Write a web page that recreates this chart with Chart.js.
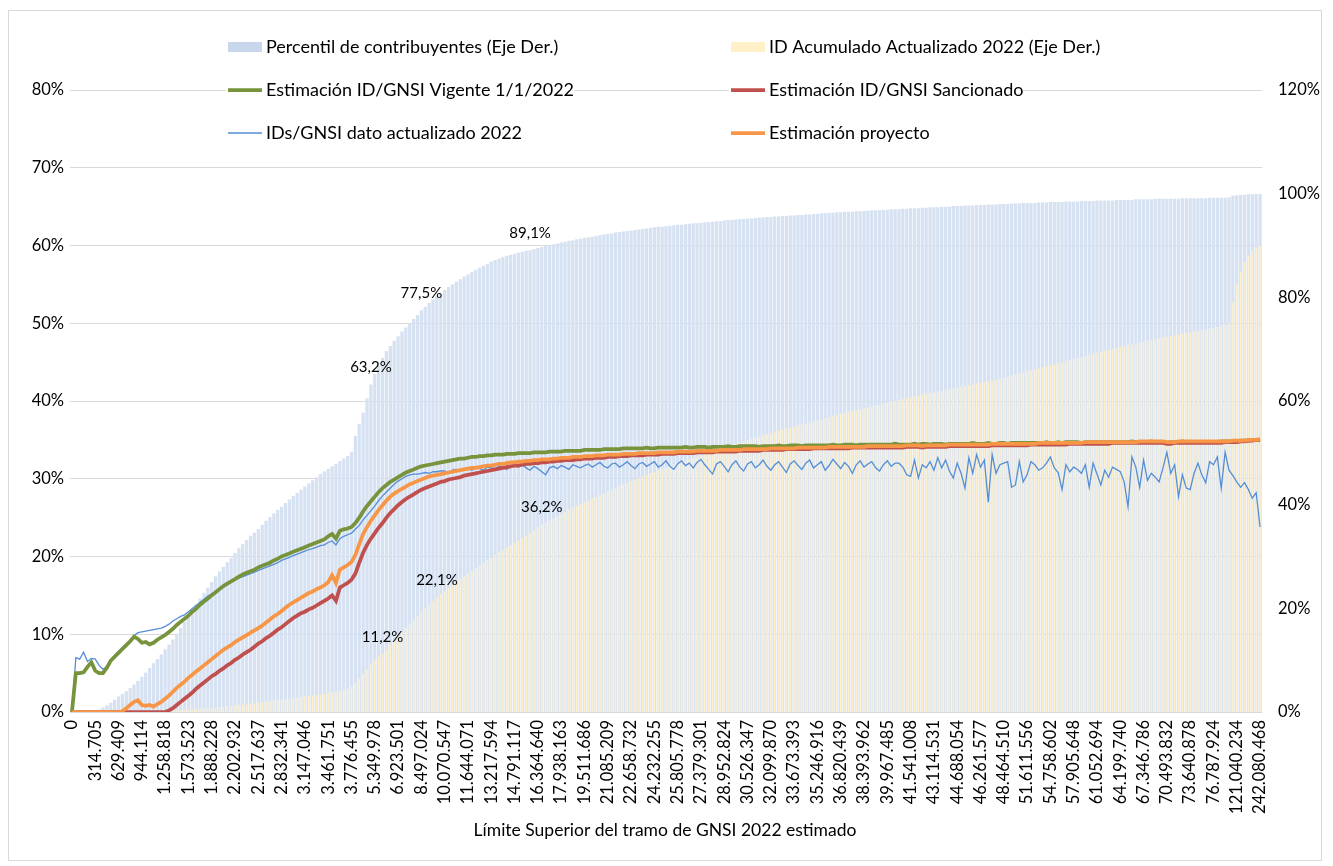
<!DOCTYPE html>
<html>
<head>
<meta charset="utf-8">
<script src="https://cdn.jsdelivr.net/npm/chart.js@4.4.1/dist/chart.umd.min.js"></script>
<style>
  body { margin: 0; background: #fff; }
</style>
</head>
<body>
<canvas id="chart" width="1333" height="866"></canvas>
<script>
// etiquetas del eje X (una cada 6 tramos)
const tickLabels = ['0','314.705','629.409','944.114','1.258.818','1.573.523','1.888.228','2.202.932',
  '2.517.637','2.832.341','3.147.046','3.461.751','3.776.455','5.349.978','6.923.501','8.497.024',
  '10.070.547','11.644.071','13.217.594','14.791.117','16.364.640','17.938.163','19.511.686','21.085.209',
  '22.658.732','24.232.255','25.805.778','27.379.301','28.952.824','30.526.347','32.099.870','33.673.393',
  '35.246.916','36.820.439','38.393.962','39.967.485','41.541.008','43.114.531','44.688.054','46.261.577',
  '48.464.510','51.611.556','54.758.602','57.905.648','61.052.694','64.199.740','67.346.786','70.493.832',
  '73.640.878','76.787.924','121.040.234','242.080.468'];
const tramosPorEtiqueta = 6;

// Eje derecho (%)
const percentilContribuyentes = [
  0, 0, 0, 0, 0.1, 0.1,
  0.2, 0.5, 0.9, 1.3, 1.8, 2.4,
  3.0, 3.5, 4.0, 4.6, 5.3, 6.0,
  6.8, 7.6, 8.5, 9.4, 10.2, 11.1,
  12.1, 13.0, 14.0, 15.1, 16.2, 17.4,
  18.5, 19.7, 20.8, 21.9, 23.0, 24.0,
  25.1, 26.2, 27.1, 28.0, 28.9, 29.7,
  30.7, 31.6, 32.4, 33.2, 34.0, 34.6,
  35.3, 36.1, 36.9, 37.6, 38.3, 39.0,
  39.6, 40.3, 41.0, 41.7, 42.3, 42.9,
  43.5, 44.1, 44.7, 45.3, 45.9, 46.4,
  46.9, 47.4, 47.9, 48.4, 48.9, 49.4,
  50.2, 53.3, 55.6, 57.8, 60.5, 63.2,
  65.2, 66.9, 68.3, 69.6, 70.6, 71.6,
  72.5, 73.4, 74.2, 75.0, 75.8, 76.6,
  77.5, 78.2, 78.9, 79.6, 80.2, 80.8,
  81.4, 82.0, 82.5, 83.0, 83.5, 84.0,
  84.4, 84.9, 85.3, 85.7, 86.1, 86.5,
  86.9, 87.2, 87.5, 87.8, 88.0, 88.2,
  88.4, 88.6, 88.8, 89.0, 89.1, 89.3,
  89.5, 89.7, 89.9, 90.1, 90.2, 90.4,
  90.6, 90.7, 90.9, 91.0, 91.2, 91.3,
  91.5, 91.6, 91.7, 91.9, 92.0, 92.1,
  92.2, 92.3, 92.5, 92.6, 92.7, 92.8,
  92.9, 93.0, 93.1, 93.2, 93.3, 93.4,
  93.5, 93.6, 93.6, 93.7, 93.8, 93.9,
  94.0, 94.0, 94.1, 94.2, 94.3, 94.3,
  94.4, 94.5, 94.5, 94.6, 94.7, 94.7,
  94.8, 94.9, 94.9, 95.0, 95.1, 95.1,
  95.2, 95.2, 95.3, 95.4, 95.4, 95.5,
  95.5, 95.6, 95.6, 95.7, 95.7, 95.8,
  95.8, 95.9, 95.9, 96.0, 96.0, 96.1,
  96.1, 96.2, 96.2, 96.3, 96.3, 96.4,
  96.4, 96.5, 96.5, 96.5, 96.6, 96.6,
  96.7, 96.7, 96.8, 96.8, 96.8, 96.9,
  96.9, 97.0, 97.0, 97.0, 97.1, 97.1,
  97.2, 97.2, 97.2, 97.3, 97.3, 97.4,
  97.4, 97.4, 97.5, 97.5, 97.5, 97.6,
  97.6, 97.6, 97.7, 97.7, 97.7, 97.8,
  97.8, 97.8, 97.9, 97.9, 97.9, 98.0,
  98.0, 98.0, 98.1, 98.1, 98.1, 98.2,
  98.2, 98.2, 98.2, 98.3, 98.3, 98.3,
  98.4, 98.4, 98.4, 98.4, 98.5, 98.5,
  98.5, 98.5, 98.6, 98.6, 98.6, 98.6,
  98.7, 98.7, 98.7, 98.7, 98.7, 98.8,
  98.8, 98.8, 98.8, 98.8, 98.9, 98.9,
  98.9, 98.9, 98.9, 99.0, 99.0, 99.0,
  99.0, 99.0, 99.0, 99.0, 99.1, 99.1,
  99.1, 99.1, 99.1, 99.1, 99.1, 99.2,
  99.2, 99.2, 99.2, 99.2, 99.3, 99.6,
  99.7, 99.8, 99.8, 99.9, 99.9, 99.95,
  100
];

const idAcumulado = [
  0, 0, 0, 0, 0, 0,
  0, 0, 0, 0, 0, 0,
  0, 0, 0, 0, 0, 0.05,
  0.05, 0.05, 0.1, 0.1, 0.1, 0.15,
  0.2, 0.2, 0.25, 0.3, 0.35, 0.4,
  0.45, 0.5, 0.55, 0.6, 0.7, 0.75,
  0.8, 0.9, 0.95, 1.0, 1.1, 1.2,
  1.25, 1.35, 1.4, 1.5, 1.6, 1.7,
  1.8, 1.9, 2.0, 2.1, 2.2, 2.3,
  2.4, 2.5, 2.6, 2.7, 2.8, 2.9,
  3.0, 3.1, 3.2, 3.3, 3.4, 3.5,
  3.7, 3.8, 3.9, 4.1, 4.3, 4.5,
  4.9, 5.6, 6.4, 7.3, 8.2, 9.1,
  10.0, 10.6, 11.2, 12.1, 13.0, 13.8,
  14.6, 15.4, 16.2, 17.0, 17.8, 18.5,
  19.3, 20.0, 20.7, 21.4, 22.1, 22.7,
  23.3, 23.9, 24.5, 25.1, 25.7, 26.2,
  26.8, 27.3, 27.8, 28.3, 28.8, 29.3,
  29.8, 30.3, 30.8, 31.2, 31.7, 32.1,
  32.6, 33.1, 33.6, 34.1, 34.6, 35.1,
  35.7, 36.2, 36.6, 37.0, 37.4, 37.8,
  38.2, 38.6, 39.0, 39.4, 39.8, 40.1,
  40.5, 40.8, 41.2, 41.5, 41.9, 42.2,
  42.6, 42.9, 43.2, 43.6, 43.9, 44.2,
  44.5, 44.8, 45.1, 45.4, 45.7, 46.0,
  46.3, 46.6, 46.9, 47.2, 47.4, 47.7,
  48.0, 48.3, 48.5, 48.8, 49.0, 49.3,
  49.6, 49.8, 50.1, 50.3, 50.6, 50.8,
  51.1, 51.3, 51.6, 51.8, 52.0, 52.3,
  52.5, 52.7, 53.0, 53.2, 53.4, 53.6,
  53.8, 54.1, 54.3, 54.5, 54.7, 54.9,
  55.1, 55.3, 55.5, 55.7, 55.9, 56.1,
  56.3, 56.5, 56.7, 56.9, 57.1, 57.3,
  57.5, 57.7, 57.9, 58.1, 58.2, 58.4,
  58.6, 58.8, 59.0, 59.1, 59.3, 59.5,
  59.7, 59.9, 60.0, 60.2, 60.4, 60.5,
  60.7, 60.9, 61.0, 61.2, 61.4, 61.5,
  61.7, 61.8, 62.0, 62.2, 62.3, 62.5,
  62.6, 62.8, 62.9, 63.1, 63.2, 63.4,
  63.5, 63.7, 63.8, 64.0, 64.1, 64.3,
  64.5, 64.7, 64.9, 65.1, 65.3, 65.5,
  65.7, 65.9, 66.1, 66.3, 66.5, 66.7,
  66.9, 67.1, 67.3, 67.5, 67.7, 67.9,
  68.1, 68.3, 68.5, 68.7, 68.9, 69.1,
  69.3, 69.5, 69.7, 69.9, 70.0, 70.2,
  70.4, 70.6, 70.8, 70.9, 71.1, 71.3,
  71.4, 71.6, 71.8, 71.9, 72.1, 72.2,
  72.4, 72.5, 72.7, 72.8, 73.0, 73.1,
  73.2, 73.4, 73.5, 73.7, 73.8, 74.0,
  74.1, 74.3, 74.5, 74.7, 75.0, 79.0,
  82.5, 85.0, 86.8, 88.0, 89.0, 89.6,
  90.0
];

// Eje izquierdo (%)
const estimacionVigente = [
  0, 5.0, 5.0, 5.1, 5.8, 6.4,
  5.3, 5.0, 5.0, 5.7, 6.6, 7.1,
  7.6, 8.1, 8.6, 9.1, 9.7, 9.4,
  8.9, 9.0, 8.7, 8.9, 9.3, 9.6,
  9.9, 10.3, 10.7, 11.2, 11.6, 12.0,
  12.4, 12.9, 13.3, 13.8, 14.2, 14.6,
  15.0, 15.4, 15.8, 16.2, 16.5, 16.8,
  17.1, 17.4, 17.7, 17.9, 18.1, 18.3,
  18.6, 18.8, 19.0, 19.2, 19.5, 19.7,
  20.0, 20.2, 20.4, 20.6, 20.8, 21.0,
  21.2, 21.4, 21.6, 21.8, 22.0, 22.2,
  22.6, 22.9, 22.3, 23.3, 23.5, 23.6,
  23.8, 24.3, 25.0, 25.8, 26.5, 27.1,
  27.7, 28.3, 28.8, 29.2, 29.6, 29.9,
  30.2, 30.5, 30.8, 31.0, 31.2, 31.4,
  31.6, 31.7, 31.8, 31.9, 32.0, 32.1,
  32.2, 32.3, 32.4, 32.5, 32.6, 32.6,
  32.7, 32.8, 32.8, 32.9, 32.9, 33.0,
  33.0, 33.1, 33.1, 33.1, 33.2, 33.2,
  33.2, 33.3, 33.3, 33.3, 33.3, 33.4,
  33.4, 33.4, 33.4, 33.5, 33.5, 33.5,
  33.5, 33.6, 33.6, 33.6, 33.6, 33.6,
  33.7, 33.7, 33.7, 33.7, 33.7, 33.8,
  33.8, 33.8, 33.8, 33.8, 33.9, 33.9,
  33.9, 33.9, 33.9, 33.9, 34.0, 33.9,
  33.9, 34.0, 34.0, 34.0, 34.0, 34.0,
  34.0, 34.0, 34.1, 34.0, 34.0, 34.1,
  34.1, 34.1, 34.0, 34.1, 34.1, 34.1,
  34.1, 34.2, 34.1, 34.1, 34.2, 34.2,
  34.2, 34.2, 34.2, 34.1, 34.2, 34.2,
  34.2, 34.2, 34.3, 34.2, 34.2, 34.3,
  34.3, 34.3, 34.2, 34.3, 34.3, 34.3,
  34.3, 34.3, 34.3, 34.3, 34.4, 34.3,
  34.3, 34.4, 34.4, 34.4, 34.3, 34.4,
  34.4, 34.4, 34.4, 34.4, 34.4, 34.4,
  34.4, 34.4, 34.5, 34.4, 34.4, 34.4,
  34.4, 34.5, 34.4, 34.5, 34.5, 34.4,
  34.5, 34.5, 34.5, 34.4, 34.5, 34.5,
  34.5, 34.5, 34.5, 34.5, 34.6, 34.5,
  34.5, 34.5, 34.6, 34.5, 34.5, 34.6,
  34.6, 34.5, 34.6, 34.6, 34.6, 34.6,
  34.6, 34.6, 34.6, 34.6, 34.6, 34.7,
  34.6, 34.6, 34.7, 34.6, 34.7, 34.7,
  34.7, 34.7, 34.6, 34.7, 34.7, 34.7,
  34.7, 34.7, 34.7, 34.7, 34.7, 34.7,
  34.7, 34.7, 34.7, 34.8, 34.7, 34.7,
  34.7, 34.7, 34.8, 34.7, 34.7, 34.7,
  34.6, 34.7, 34.7, 34.7, 34.8, 34.7,
  34.7, 34.7, 34.7, 34.7, 34.7, 34.7,
  34.7, 34.7, 34.8, 34.8, 34.8, 34.8,
  34.8, 34.9, 34.9, 34.9, 35.0, 35.0,
  35.0
];

const estimacionSancionado = [
  0, 0, 0, 0, 0, 0,
  0, 0, 0, 0, 0, 0,
  0, 0, 0, 0, 0, 0,
  0, 0, 0, 0, 0, 0,
  0, 0.2, 0.5, 0.9, 1.3, 1.7,
  2.1, 2.5, 3.0, 3.4, 3.8, 4.2,
  4.6, 4.9, 5.3, 5.6, 6.0, 6.3,
  6.7, 7.0, 7.4, 7.7, 8.0, 8.4,
  8.8, 9.1, 9.5, 9.8, 10.2, 10.6,
  10.9, 11.3, 11.7, 12.1, 12.4, 12.7,
  12.9, 13.2, 13.4, 13.7, 14.0, 14.3,
  14.6, 15.0, 14.3, 16.0, 16.3, 16.6,
  17.0, 17.8, 19.2, 20.5, 21.5, 22.3,
  23.0, 23.7, 24.3, 25.0, 25.6, 26.1,
  26.6, 27.0, 27.4, 27.7, 28.0, 28.3,
  28.6, 28.8, 29.0, 29.2, 29.4, 29.6,
  29.7, 29.9, 30.0, 30.1, 30.2, 30.4,
  30.5, 30.6, 30.7, 30.8, 30.9, 31.0,
  31.1, 31.2, 31.3, 31.4, 31.5, 31.6,
  31.7, 31.7, 31.8, 31.9, 31.9, 32.0,
  32.0, 32.1, 32.1, 32.2, 32.2, 32.3,
  32.3, 32.4, 32.4, 32.4, 32.5, 32.5,
  32.6, 32.6, 32.6, 32.7, 32.7, 32.7,
  32.8, 32.8, 32.8, 32.9, 32.9, 32.9,
  33.0, 33.0, 33.0, 33.0, 33.1, 33.1,
  33.1, 33.1, 33.2, 33.2, 33.2, 33.2,
  33.3, 33.3, 33.3, 33.3, 33.3, 33.4,
  33.4, 33.4, 33.4, 33.4, 33.5, 33.5,
  33.5, 33.5, 33.5, 33.5, 33.6, 33.6,
  33.6, 33.6, 33.6, 33.6, 33.7, 33.7,
  33.7, 33.7, 33.7, 33.7, 33.8, 33.8,
  33.8, 33.8, 33.8, 33.8, 33.8, 33.9,
  33.9, 33.9, 33.9, 33.9, 33.9, 33.9,
  33.9, 33.9, 33.9, 34.0, 34.0, 34.0,
  34.0, 34.0, 34.0, 34.0, 34.0, 34.0,
  34.0, 34.0, 34.0, 34.0, 34.0, 34.1,
  34.1, 34.1, 34.1, 34.0, 34.1, 34.1,
  34.1, 34.1, 34.1, 34.1, 34.2, 34.2,
  34.2, 34.2, 34.2, 34.2, 34.2, 34.2,
  34.2, 34.2, 34.2, 34.3, 34.3, 34.3,
  34.3, 34.3, 34.3, 34.3, 34.3, 34.3,
  34.3, 34.4, 34.4, 34.4, 34.4, 34.4,
  34.4, 34.4, 34.4, 34.4, 34.4, 34.5,
  34.5, 34.5, 34.5, 34.5, 34.5, 34.5,
  34.5, 34.5, 34.5, 34.5, 34.6, 34.6,
  34.6, 34.6, 34.6, 34.6, 34.6, 34.6,
  34.6, 34.6, 34.6, 34.6, 34.6, 34.6,
  34.5, 34.5, 34.6, 34.6, 34.6, 34.6,
  34.6, 34.6, 34.6, 34.6, 34.6, 34.6,
  34.6, 34.6, 34.6, 34.7, 34.7, 34.7,
  34.7, 34.8, 34.8, 34.9, 34.9, 35.0,
  35.0
];

const idsGnsiActualizado = [
  0, 7.0, 6.8, 7.7, 6.5, 6.9,
  6.8, 6.0, 5.5, 5.8, 6.6, 7.3,
  7.8, 8.3, 8.7, 9.2, 9.8, 10.2,
  10.3, 10.4, 10.5, 10.6, 10.7, 10.8,
  11.0, 11.3, 11.7, 12.0, 12.3, 12.5,
  12.9, 13.3, 13.7, 14.1, 14.5, 14.9,
  15.2, 15.5, 15.8, 16.1, 16.4, 16.7,
  17.0, 17.2, 17.4, 17.6, 17.8, 18.0,
  18.2, 18.4, 18.6, 18.8, 19.0, 19.2,
  19.5, 19.7, 19.9, 20.1, 20.3, 20.5,
  20.7, 20.9, 21.0, 21.2, 21.4, 21.5,
  21.8, 22.0, 21.5, 22.3, 22.6, 22.8,
  23.0, 23.5, 24.0, 24.7, 25.3, 25.9,
  26.5, 27.2, 27.8, 28.3, 28.8, 29.3,
  29.7, 30.0, 30.3, 30.5, 30.6, 30.6,
  30.7, 30.8, 30.7, 30.9, 30.9, 31.0,
  31.0, 30.8, 31.1, 31.2, 31.0, 31.2,
  31.3, 31.1, 31.4, 31.3, 31.1, 31.5,
  31.4, 31.3, 31.6, 31.5, 31.2, 31.6,
  31.7, 31.5, 31.8, 31.4, 31.1, 31.6,
  31.3, 30.9, 30.5, 31.4, 31.6, 31.3,
  31.7, 31.5, 31.2, 31.8, 31.6, 31.4,
  31.7, 31.9, 31.5, 31.8, 32.1, 31.6,
  31.4, 31.9, 32.0, 31.5, 31.8, 32.2,
  31.7, 31.3, 31.9, 32.1, 31.6, 31.9,
  32.2, 31.5, 31.8, 32.3, 31.6, 31.2,
  31.9, 32.3, 31.7, 32.0, 31.4, 32.1,
  32.5, 31.8, 31.2, 30.6, 31.9, 32.2,
  31.6, 30.9, 31.8, 32.3, 31.5, 31.0,
  31.9, 32.2, 31.4, 31.8, 32.4, 31.6,
  31.1, 31.8, 32.2, 31.5, 30.8, 31.9,
  32.3, 31.7, 31.2, 32.0, 32.4, 31.4,
  31.8, 32.2, 31.1, 31.7, 32.5, 31.9,
  31.3, 32.1, 31.6, 30.7, 31.8, 32.3,
  31.5, 31.9, 32.2, 31.4, 31.0, 31.8,
  32.3, 31.6, 32.0, 32.0, 31.5, 30.5,
  30.3, 32.4, 30.1, 31.8, 31.4, 32.2,
  31.1, 32.7, 31.4, 32.4, 31.0, 30.1,
  32.0, 30.7, 28.8, 32.7, 30.7, 33.1,
  31.5, 32.4, 27.0, 33.1, 30.7, 31.8,
  32.0, 32.2, 28.9, 29.2, 32.2, 29.6,
  30.5, 32.2, 31.8, 31.1, 31.4, 32.0,
  32.8, 31.4, 30.8, 28.6, 31.8, 30.9,
  31.5, 31.2, 30.7, 31.8, 28.9, 32.0,
  30.6, 29.2, 31.1, 30.2, 31.5, 31.2,
  30.9, 29.6, 26.4, 32.8, 31.5, 28.9,
  32.4, 29.8, 30.7, 30.2, 29.6, 31.4,
  33.4, 30.7, 31.8, 27.7, 30.5, 28.8,
  28.6, 30.7, 32.0, 30.5, 29.5, 32.2,
  31.8, 32.8, 28.8, 33.4, 31.1, 30.4,
  29.6, 28.9, 29.5, 28.6, 27.5, 28.2,
  23.8
];

const estimacionProyecto = [
  0, 0, 0, 0, 0, 0,
  0, 0, 0, 0, 0, 0,
  0, 0.1, 0.5, 0.9, 1.3, 1.5,
  0.9, 0.8, 0.9, 0.7, 1.0, 1.3,
  1.7, 2.1, 2.6, 3.1, 3.5, 3.9,
  4.4, 4.8, 5.2, 5.6, 6.0, 6.4,
  6.8, 7.2, 7.6, 8.0, 8.3, 8.6,
  9.0, 9.3, 9.6, 9.9, 10.2, 10.5,
  10.8, 11.1, 11.5, 11.9, 12.3, 12.6,
  13.0, 13.4, 13.8, 14.1, 14.4, 14.7,
  15.0, 15.3, 15.5, 15.8, 16.0, 16.3,
  16.7, 17.6, 16.6, 18.3, 18.6, 18.9,
  19.3, 20.2, 21.6, 22.9, 23.8, 24.6,
  25.3, 26.0, 26.6, 27.2, 27.7, 28.1,
  28.4, 28.7, 29.0, 29.3, 29.5, 29.7,
  29.9, 30.1, 30.3, 30.4, 30.5, 30.6,
  30.7, 30.8, 30.9, 31.0, 31.1, 31.2,
  31.3, 31.4, 31.4, 31.5, 31.6, 31.7,
  31.7, 31.8, 31.9, 31.9, 32.0, 32.1,
  32.1, 32.2, 32.2, 32.3, 32.3, 32.4,
  32.4, 32.5, 32.5, 32.5, 32.6, 32.6,
  32.7, 32.7, 32.7, 32.8, 32.8, 32.8,
  32.9, 32.9, 32.9, 33.0, 33.0, 33.0,
  33.1, 33.1, 33.1, 33.1, 33.2, 33.2,
  33.2, 33.2, 33.3, 33.3, 33.3, 33.3,
  33.3, 33.4, 33.4, 33.4, 33.4, 33.4,
  33.5, 33.5, 33.5, 33.5, 33.5, 33.6,
  33.6, 33.6, 33.6, 33.6, 33.6, 33.7,
  33.7, 33.7, 33.7, 33.7, 33.7, 33.8,
  33.8, 33.8, 33.8, 33.8, 33.8, 33.8,
  33.9, 33.9, 33.9, 33.9, 33.9, 33.9,
  33.9, 34.0, 34.0, 34.0, 34.0, 34.0,
  34.0, 34.0, 34.0, 34.1, 34.1, 34.1,
  34.1, 34.1, 34.1, 34.1, 34.1, 34.1,
  34.1, 34.2, 34.2, 34.2, 34.2, 34.2,
  34.2, 34.2, 34.2, 34.2, 34.2, 34.3,
  34.3, 34.3, 34.3, 34.2, 34.3, 34.3,
  34.3, 34.3, 34.3, 34.3, 34.4, 34.4,
  34.4, 34.4, 34.4, 34.4, 34.4, 34.4,
  34.4, 34.4, 34.4, 34.5, 34.5, 34.5,
  34.5, 34.5, 34.5, 34.5, 34.5, 34.5,
  34.5, 34.5, 34.5, 34.6, 34.6, 34.6,
  34.6, 34.6, 34.6, 34.6, 34.6, 34.6,
  34.6, 34.6, 34.6, 34.7, 34.7, 34.7,
  34.7, 34.7, 34.7, 34.7, 34.7, 34.7,
  34.7, 34.7, 34.7, 34.7, 34.7, 34.8,
  34.8, 34.8, 34.8, 34.8, 34.8, 34.8,
  34.7, 34.7, 34.7, 34.8, 34.8, 34.8,
  34.8, 34.8, 34.8, 34.8, 34.8, 34.8,
  34.8, 34.8, 34.8, 34.8, 34.8, 34.9,
  34.9, 34.9, 34.9, 35.0, 35.0, 35.0,
  35.1
];

// tramos con etiqueta de dato
const etiquetasPercentil = [77, 90, 118];
const etiquetasAcumulado = [80, 94, 121];

const categorias = percentilContribuyentes.map((v, i) =>
  i % tramosPorEtiqueta === 0 ? tickLabels[i / tramosPorEtiqueta] : '');

const fuente = 'Lato, "Open Sans", sans-serif';
const fmtPct = v => v.toFixed(1).replace('.', ',') + '%';

const extras = {
  id: 'extras',
  beforeDraw(chart) {
    const ctx = chart.ctx;
    ctx.save();
    ctx.fillStyle = '#fff';
    ctx.fillRect(0, 0, chart.width, chart.height);
    ctx.restore();
  },
  afterDraw(chart) {
    const ctx = chart.ctx;
    ctx.save();
    // marco
    ctx.strokeStyle = '#d9d9d9';
    ctx.lineWidth = 1;
    ctx.strokeRect(8.5, 10.5, 1313, 850);

    // etiquetas de datos
    ctx.font = '15px ' + fuente;
    ctx.fillStyle = '#000';
    ctx.textAlign = 'center';
    ctx.textBaseline = 'middle';
    [[0, etiquetasPercentil], [1, etiquetasAcumulado]].forEach(([ds, idxs]) => {
      const meta = chart.getDatasetMeta(ds);
      idxs.forEach(i => {
        const bar = meta.data[i];
        ctx.fillText(fmtPct(chart.data.datasets[ds].data[i]), bar.x, bar.y - 17);
      });
    });

    // titulo eje X
    ctx.font = '17.5px ' + fuente;
    ctx.fillText('Límite Superior del tramo de GNSI 2022 estimado', 665, 830);

    // leyenda
    const items = [
      [0, 228, 47], [1, 731, 47],
      [2, 228, 90], [3, 731, 90],
      [4, 228, 133], [5, 731, 133]
    ];
    ctx.font = '18px ' + fuente;
    ctx.textAlign = 'left';
    items.forEach(([ds, x, y]) => {
      const d = chart.data.datasets[ds];
      const w = ctx.measureText(d.label).width;
      ctx.fillStyle = '#fff';
      ctx.fillRect(x - 2, y - 10, 40 + w, 20);
      if (d.type === 'bar') {
        ctx.fillStyle = d.legendColor;
        ctx.fillRect(x, y - 5, 34, 10);
      } else {
        ctx.strokeStyle = d.borderColor;
        ctx.lineWidth = d.borderWidth;
        ctx.beginPath();
        ctx.moveTo(x, y);
        ctx.lineTo(x + 34, y);
        ctx.stroke();
      }
      ctx.fillStyle = '#000';
      ctx.fillText(d.label, x + 38, y);
    });
    ctx.restore();
  }
};

new Chart(document.getElementById('chart'), {
  type: 'bar',
  data: {
    labels: categorias,
    datasets: [
      {
        type: 'bar',
        label: 'Percentil de contribuyentes (Eje Der.)',
        data: percentilContribuyentes,
        backgroundColor: '#D6E1F2',
        legendColor: '#C9D7EC',
        yAxisID: 'y1',
        grouped: false,
        barPercentage: 0.84,
        categoryPercentage: 1,
        order: 6
      },
      {
        type: 'bar',
        label: 'ID Acumulado Actualizado 2022 (Eje Der.)',
        data: idAcumulado,
        backgroundColor: '#FDF0CB',
        legendColor: '#FFF0C8',
        yAxisID: 'y1',
        grouped: false,
        barPercentage: 0.4,
        categoryPercentage: 1,
        order: 5
      },
      {
        type: 'line',
        label: 'Estimación ID/GNSI Vigente 1/1/2022',
        data: estimacionVigente,
        borderColor: '#77933C',
        borderWidth: 3.75,
        pointRadius: 0,
        fill: false,
        yAxisID: 'y',
        order: 3
      },
      {
        type: 'line',
        label: 'Estimación ID/GNSI Sancionado',
        data: estimacionSancionado,
        borderColor: '#C0504D',
        borderWidth: 3.75,
        pointRadius: 0,
        fill: false,
        yAxisID: 'y',
        order: 2
      },
      {
        type: 'line',
        label: 'IDs/GNSI dato actualizado 2022',
        data: idsGnsiActualizado,
        borderColor: '#558ED5',
        borderWidth: 1.3,
        pointRadius: 0,
        fill: false,
        yAxisID: 'y',
        order: 4
      },
      {
        type: 'line',
        label: 'Estimación proyecto',
        data: estimacionProyecto,
        borderColor: '#F79646',
        borderWidth: 3.75,
        pointRadius: 0,
        fill: false,
        yAxisID: 'y',
        order: 1
      }
    ]
  },
  options: {
    responsive: false,
    animation: false,
    devicePixelRatio: 1,
    events: [],
    layout: { padding: { top: 90, left: 0, right: 0, bottom: 0 } },
    plugins: {
      legend: { display: false },
      tooltip: { enabled: false }
    },
    scales: {
      x: {
        grid: { display: false, drawTicks: false },
        border: { display: false },
        ticks: {
          autoSkip: false,
          minRotation: 90,
          maxRotation: 90,
          padding: 8,
          color: '#000',
          font: { family: fuente, size: 16.5 }
        },
        afterFit(scale) { scale.height = 154; }
      },
      y: {
        position: 'left',
        min: 0,
        max: 80,
        grid: { color: '#d9d9d9', drawTicks: false },
        border: { display: false },
        ticks: {
          stepSize: 10,
          padding: 6,
          color: '#000',
          font: { family: fuente, size: 16.5 },
          callback: v => v + '%'
        },
        afterFit(scale) { scale.width = 70; }
      },
      y1: {
        position: 'right',
        min: 0,
        max: 120,
        grid: { display: false, drawTicks: false },
        border: { display: false },
        ticks: {
          stepSize: 20,
          padding: 16,
          color: '#000',
          font: { family: fuente, size: 16.5 },
          callback: v => v + '%'
        },
        afterFit(scale) { scale.width = 71; }
      }
    }
  },
  plugins: [extras]
});
</script>
</body>
</html>
